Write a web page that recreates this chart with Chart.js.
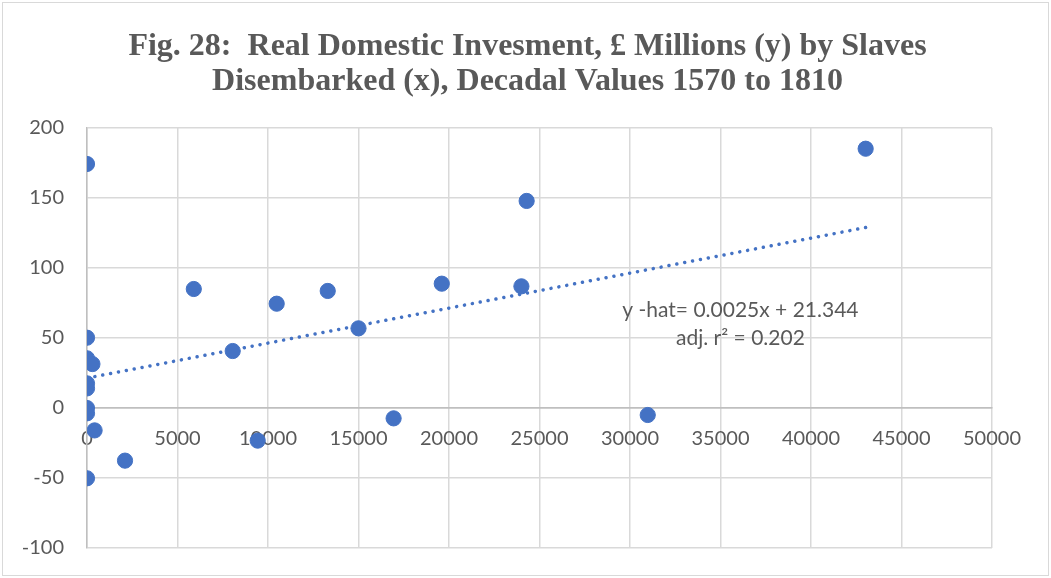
<!DOCTYPE html>
<html>
<head>
<meta charset="utf-8">
<script src="https://cdn.jsdelivr.net/npm/chart.js@4"></script>
<style>
  html, body { margin: 0; padding: 0; background: #fff; }
  #wrap { width: 1051px; height: 578px; position: relative; }
</style>
</head>
<body>
<div id="wrap"><canvas id="chart"></canvas></div>
<script>
// Slaves disembarked (x) and real domestic investment, £ millions (y), decadal values
const slaves = [0, 0, 0, 300, 0, 0, 0, 0, 420, 2100, 0, 5900, 8050, 9430, 10480, 13300, 15000, 16940, 19600, 24000, 24290, 30980, 43020];
const invest = [174.3, 50.2, 35.5, 31.4, 17.6, 14, 0, -3.8, -16, -37.6, -50.2, 85, 40.7, -23.3, 74.5, 83.6, 56.9, -7.4, 88.8, 86.9, 147.9, -5, 185.2];

// Fitted trend line (from the equation shown on the chart)
const trendSlope = 0.0025;
const trendIntercept = 21.344;
const trendX = [0, 43020];

const titleLines = ['Fig. 28:  Real Domestic Invesment, \u00a3 Millions (y) by Slaves',
                    'Disembarked (x), Decadal Values 1570 to 1810'];
const equationLines = ['y -hat= 0.0025x + 21.344', 'adj. r\u00b2 = 0.202'];

const grey = '#595959';
const blue = '#4472C4';

const points = slaves.map((x, i) => ({ x: x, y: invest[i] }));
const trend = trendX.map(x => ({ x: x, y: trendSlope * x + trendIntercept }));

// outer border, title across the full width, and the trendline label
const extras = {
    id: 'extras',
    beforeDraw: (chart) => {
        const c = chart.ctx;
        c.save();
        c.strokeStyle = '#d9d9d9';
        c.lineWidth = 1;
        c.strokeRect(2.5, 2.5, chart.width - 5, chart.height - 5);
        c.fillStyle = grey;
        c.font = 'bold 32px "Liberation Serif"';
        c.textAlign = 'center';
        c.textBaseline = 'alphabetic';
        c.fillText(titleLines[0], chart.width / 2 + 2, 55);
        c.fillText(titleLines[1], chart.width / 2 + 2, 90);
        c.restore();
    },
    afterDatasetsDraw: (chart) => {
        const c = chart.ctx;
        const xs = chart.scales.x, ys = chart.scales.y;
        const px = xs.getPixelForValue(36100);
        const py = ys.getPixelForValue(70);
        c.save();
        c.fillStyle = grey;
        c.font = '21px Lato';
        c.textAlign = 'center';
        c.textBaseline = 'middle';
        c.fillText(equationLines[0], px, py);
        c.fillText(equationLines[1], px, py + 28);
        c.restore();
    }
};

new Chart(document.getElementById('chart'), {
    type: 'scatter',
    data: {
        datasets: [{
            label: 'Investment',
            data: points,
            backgroundColor: blue,
            borderColor: blue,
            pointRadius: 7.6,
            pointHoverRadius: 7.6,
            order: 1
        }, {
            type: 'line',
            label: 'Trend',
            data: trend,
            borderColor: blue,
            borderWidth: 3.5,
            borderDash: [0.01, 8],
            borderCapStyle: 'round',
            pointRadius: 0,
            fill: false,
            order: 2
        }]
    },
    options: {
        responsive: true,
        maintainAspectRatio: false,
        animation: false,
        layout: { padding: { left: 8, right: 59, top: 128, bottom: 30 } },
        plugins: {
            legend: { display: false },
            tooltip: { enabled: false },
            title: { display: false }
        },
        scales: {
            x: {
                type: 'linear',
                position: { y: 0 },
                min: 0,
                max: 50000,
                afterFit: (scale) => { scale.height = 0; scale.paddingTop = 0; scale.paddingBottom = 0; },
                ticks: {
                    stepSize: 5000,
                    color: grey,
                    font: { family: 'Lato', size: 20 },
                    padding: 19,
                    maxRotation: 0,
                    callback: (v) => String(v)
                },
                grid: {
                    color: '#d9d9d9',
                    lineWidth: 1.5,
                    drawTicks: false
                },
                border: { color: '#bfbfbf', width: 1.5 }
            },
            y: {
                min: -100,
                max: 200,
                afterFit: (scale) => { scale.width = 79; scale.paddingTop = 0; scale.paddingBottom = 0; },
                ticks: {
                    stepSize: 50,
                    color: grey,
                    font: { family: 'Lato', size: 20 },
                    padding: 23
                },
                grid: {
                    color: (ctx) => ctx.tick && ctx.tick.value === 0 ? '#bfbfbf' : '#d9d9d9',
                    lineWidth: 1.5,
                    drawTicks: false
                },
                border: { color: '#bfbfbf', width: 1.5 }
            }
        }
    },
    plugins: [extras]
});
</script>
</body>
</html>
